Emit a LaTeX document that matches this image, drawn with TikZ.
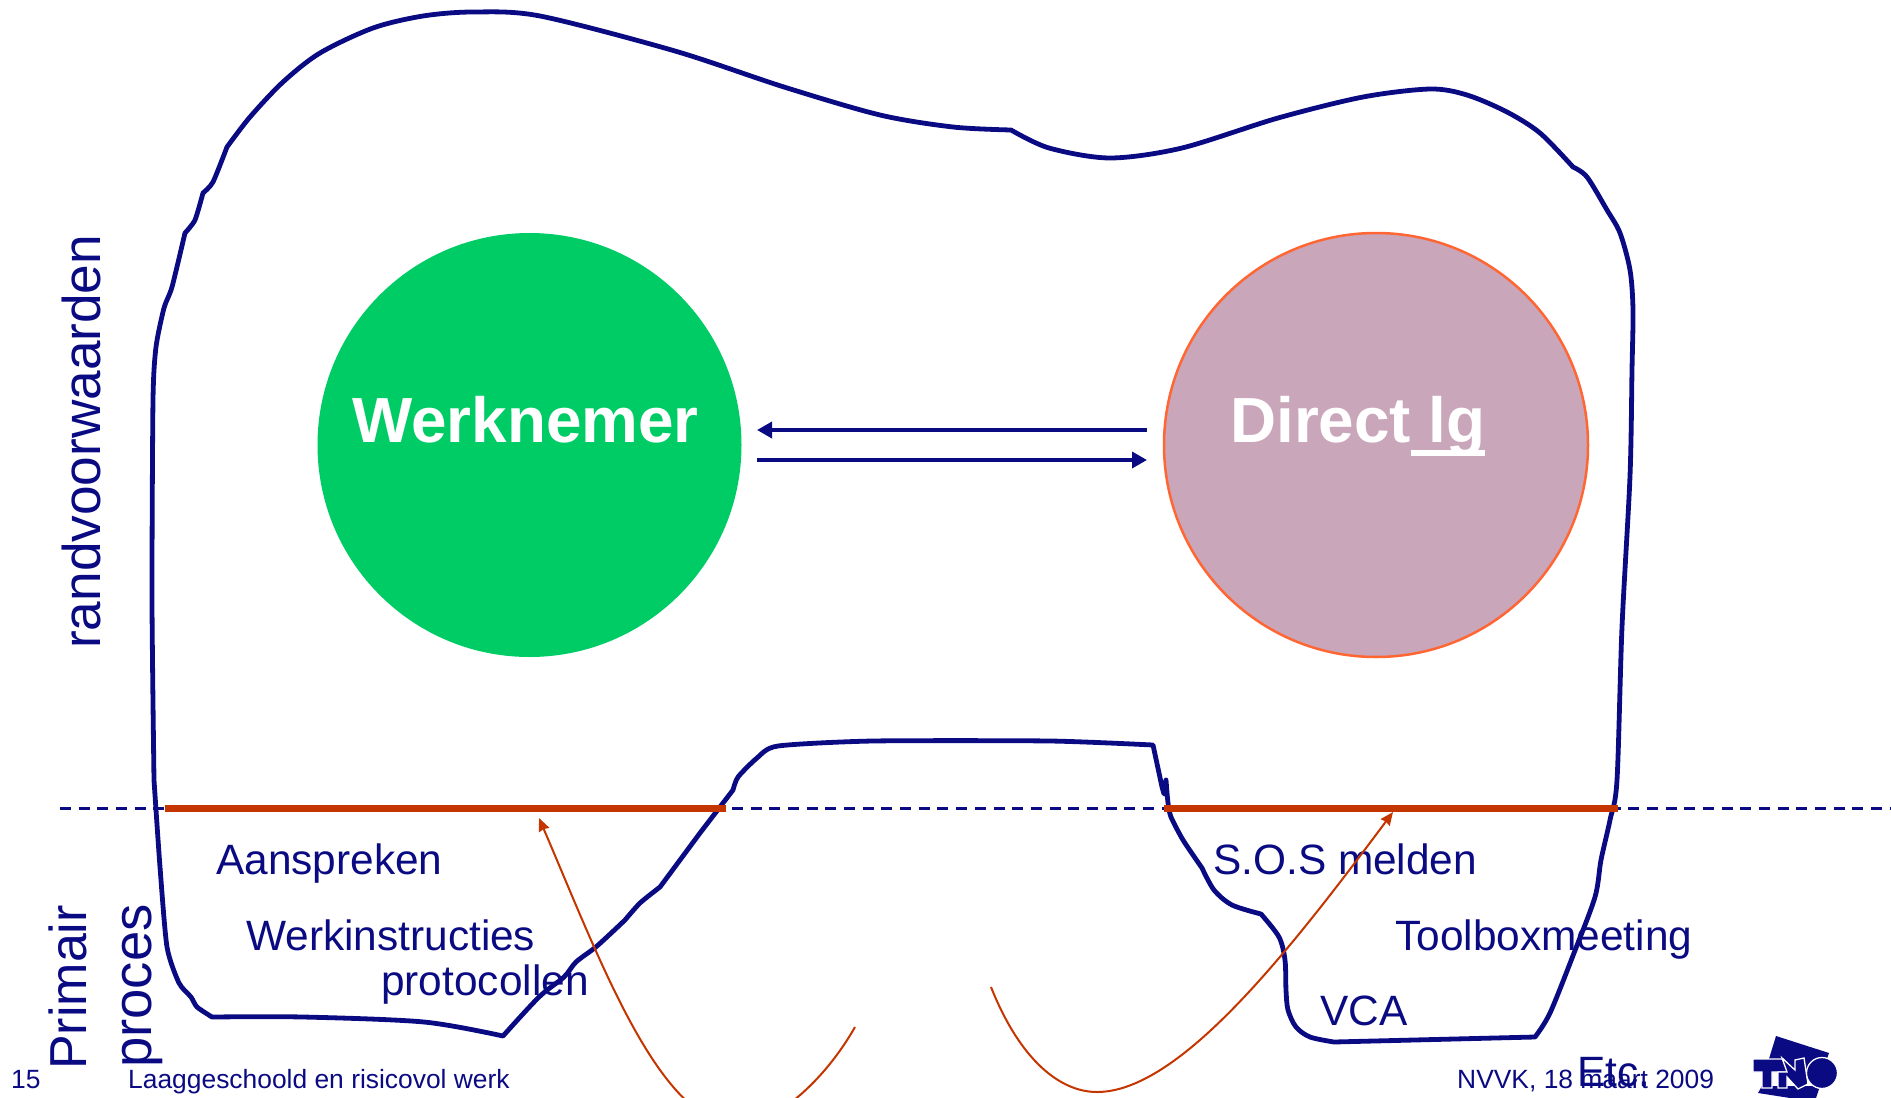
\documentclass[tikz,border=0pt]{standalone}
\usepackage{fontspec}
\setmainfont{Liberation Sans}
\usetikzlibrary{arrows.meta}
\definecolor{tnoblue}{HTML}{0A0A82}
\definecolor{tnored}{HTML}{C43500}
\definecolor{wngreen}{HTML}{00CC66}
\definecolor{lgpink}{HTML}{C9A6BA}
\definecolor{lgedge}{HTML}{FF6633}
\tikzset{
  bigball/.style={circle,minimum size=424pt,inner sep=0pt},
  balltext/.style={anchor=base west,text=white,font=\fontsize{63.8}{63.8}\selectfont\bfseries,inner sep=0pt},
  lbl/.style={anchor=base west,text=tnoblue,font=\fontsize{42.4}{42.4}\selectfont,inner sep=0pt},
  sidelbl/.style={anchor=base west,rotate=90,text=tnoblue,inner sep=0pt},
  foot/.style={anchor=base west,text=tnoblue,font=\fontsize{26.4}{26.4}\selectfont,inner sep=0pt},
  outline/.style={draw=tnoblue,line width=4.8pt,line join=round},
  thick red/.style={draw=tnored,line width=7pt},
  thin red/.style={draw=tnored,line width=2pt},
  swaparrow/.style={draw=tnoblue,line width=3.5pt,-{Stealth[length=15pt,width=16pt,inset=0pt]}},
  redarrow/.style={-{Stealth[length=13pt,width=11pt,inset=1pt]}},
  logowhite/.style={fill=tnoblue,draw=white,line width=1.3pt}
}
\begin{document}
\begin{tikzpicture}[x=1pt,y=-1pt]
\clip (0,0) rectangle (1891,1098);
% dashed border of the primary process
\coordinate (dashl) at (60,808);
\coordinate (dashr) at (1891,808);
\draw[tnoblue,line width=3pt,dash pattern=on 11pt off 7.67pt] (dashl) -- (dashr);
% outline
\draw[outline] plot[smooth,tension=0.4] coordinates {
(154,780) (152,600) (153,400) (156,347) (164,308) (172,287) (185,233)}
-- plot[smooth,tension=0.4] coordinates {(185,233) (195,220) (203,193)}
-- plot[smooth,tension=0.4] coordinates {(203,193) (213,182) (227,147)}
-- plot[smooth,tension=0.5] coordinates {
(227,147) (250,117) (283,82) (320,53) (373,28) (423,16) (473,12) (540,16) (675,51) (784,87) (880,115) (953,127) (1011,130)}
-- plot[smooth,tension=0.5] coordinates {
(1011,130) (1049,148) (1110,158) (1182,148) (1278,118) (1363,97) (1430,89) (1467,95) (1507,112) (1540,133) (1573,167)}
-- plot[smooth,tension=0.5] coordinates {
(1573,167) (1587,177) (1607,210) (1620,233) (1630,270) (1633,310) (1632,370) (1630,476) (1622,627) (1617,780) (1610,820) (1601,860) (1595,897)
(1574,953) (1550,1013) (1535,1037)}
-- (1334,1042)
-- plot[smooth,tension=0.5] coordinates {
(1334,1042) (1310,1037) (1296,1027) (1288,1010) (1286,990) (1285,960) (1279,937) (1261,914)}
-- plot[smooth,tension=0.5] coordinates {
(1261,914) (1232,905) (1214,890) (1202,868)}
-- plot[smooth,tension=0.4] coordinates {
(1202,868) (1183,840) (1171,817) (1168,803) (1166,780)}
-- (1164,794) -- (1162,787) -- (1153,745)
-- plot[smooth,tension=0.4] coordinates {
(1153,745) (1050,741) (873,741) (778,746) (757,758) (738,777) (733,790)}
-- (700,833) -- (660,887)
-- plot[smooth,tension=0.4] coordinates {(660,887) (640,903) (625,920)}
-- plot[smooth,tension=0.5] coordinates {(625,920) (597,946) (576,962) (564,977) (539,997) (503,1036)}
-- plot[smooth,tension=0.5] coordinates {(503,1036) (424,1022) (303,1017) (212,1017)}
-- plot[smooth,tension=0.4] coordinates {(212,1017) (197,1007) (191,997) (179,983) (167,947) (160,867) (154,780)};
\draw[thick red] (165,808.5) coordinate (redla) -- (726,808.5) coordinate (redlb);
\draw[thick red] (1164,808.5) coordinate (redra) -- (1618,808.5) coordinate (redrb);
% the two parties
\node[bigball,fill=wngreen] (werknemer) at (529.5,445) {};
\node[bigball,fill=lgpink,draw=lgedge,line width=2.5pt] (leiding) at (1376,445) {};
\node[balltext] (wntext) at (352,442) {Werknemer};
\node[balltext] (lgtext) at (1230,442) {Direct\rlap{\rule[-14pt]{74pt}{6pt}}\ lg};
\coordinate (topr) at (1147,430);
\coordinate (topl) at (757,430);
\coordinate (botl) at (757,460);
\coordinate (botr) at (1147,460);
\draw[swaparrow] (topr) -- (topl);
\draw[swaparrow] (botl) -- (botr);
% texts
\node[lbl] (aanspreken) at (216,874) {Aanspreken};
\node[lbl] (instructies) at (246,950) {Werkinstructies};
\node[lbl] (protocollen) at (381,995) {protocollen};
\node[lbl] (sos) at (1213,874) {S.O.S melden};
\node[lbl] (toolbox) at (1395,950) {Toolboxmeeting};
\node[lbl] (vca) at (1320,1025) {VCA};
\node[lbl] (etc) at (1577,1086) {Etc.};
\node[sidelbl,font=\fontsize{53.2}{53.2}\selectfont] (rand) at (100,649) {randvoorwaarden};
\node[sidelbl,font=\fontsize{52}{52}\selectfont] (primair) at (86,1070) {Primair};
\node[sidelbl,font=\fontsize{54.5}{54.5}\selectfont] (proces) at (151,1068) {proces};
\node[foot] (nr) at (11,1088) {15};
\node[foot] (titel) at (128,1088) {Laaggeschoold en risicovol werk};
\node[foot] (datum) at (1457,1088) {NVVK, 18 maart 2009};
% red curves
\coordinate (lefttip) at (539,818);
\coordinate (leftend) at (855,1027);
\coordinate (righttip) at (1393,812);
\coordinate (rightend) at (991,987);
\draw[thin red,redarrow] (leftend) .. controls (825,1080) and (775,1125) .. (738,1125)
  .. controls (660,1125) and (600,960) .. (lefttip);
\draw[thin red,redarrow] (rightend) .. controls (1020,1060) and (1060,1092) .. (1097,1092)
  .. controls (1180,1092) and (1290,950) .. (righttip);
% logo
\fill[tnoblue] (1776,1036) -- (1829,1053) -- (1820,1078) -- (1768,1062) -- cycle;
\fill[tnoblue] (1758,1093) -- (1762,1086) -- (1820,1086) -- (1816,1098) -- (1790,1098) -- cycle;
\draw[logowhite] (1753,1059) -- (1783,1059) -- (1790,1066) -- (1790,1072) -- (1772,1072) -- (1772,1088) -- (1762,1088) -- (1762,1072) -- (1753,1072) -- cycle;
\draw[logowhite] (1778,1072) -- (1787,1072) -- (1782,1058) -- (1795,1070) -- (1795,1060) -- (1804,1058) -- (1808,1084) -- (1798,1089) -- (1787,1077) -- (1787,1088) -- (1778,1088) -- cycle;
\node[circle,logowhite,minimum size=31pt,inner sep=0pt] (logoo) at (1822,1073) {};
\end{tikzpicture}
\end{document}
